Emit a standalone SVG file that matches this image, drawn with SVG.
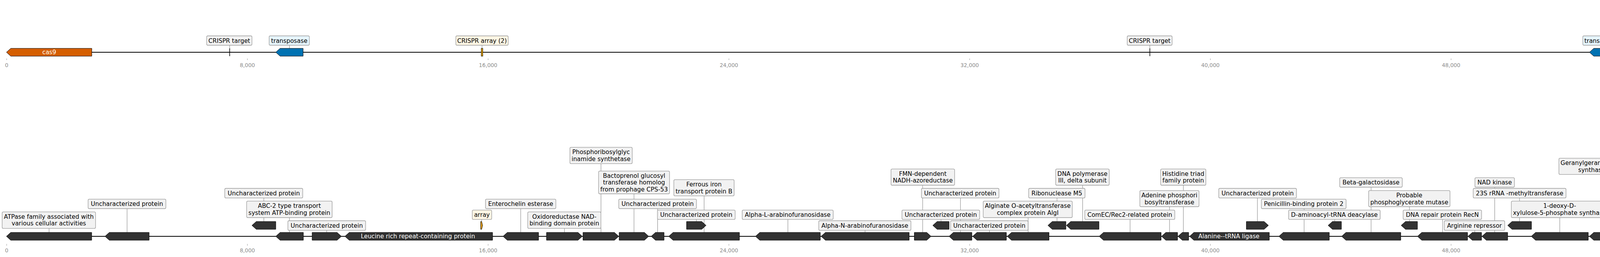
<svg xmlns="http://www.w3.org/2000/svg" width="5123" height="659" viewBox="0 0 5123 659">
<style>
.g{fill:#333333;stroke:#000;stroke-width:1}
.box{fill:#f2f2f2;stroke:#9a9a9a;stroke-width:1.3}
.bb{fill:#e6f5fd;stroke:#9a9a9a;stroke-width:1.3}
.by{fill:#fdf6e4;stroke:#9a9a9a;stroke-width:1.3}
.t{font-family:"DejaVu Sans",sans-serif;font-size:15.3px;fill:#000;text-anchor:middle}
.w{font-family:"DejaVu Sans",sans-serif;font-size:15.3px;fill:#fff;text-anchor:middle}
.ld{stroke:#444;stroke-width:0.7;fill:none}
.tk{stroke:#999;stroke-width:1}
.tl{font-family:"DejaVu Sans",sans-serif;font-size:13.5px;fill:#8c8c8c;text-anchor:middle}
.arr{fill:#e69f00;stroke:#000;stroke-width:1}
.trk{stroke:#000;stroke-width:2.2}
</style>
<rect width="5123" height="659" fill="#fff"/>
<g id="axes">
<line class="trk" x1="17" y1="134" x2="5047" y2="134"/>
<line class="trk" x1="17" y1="606" x2="5049" y2="606"/>
<g class="tk">
<line x1="17" y1="150" x2="17" y2="154"/><line x1="633.3" y1="150" x2="633.3" y2="154"/><line x1="1249.6" y1="150" x2="1249.6" y2="154"/><line x1="1866" y1="150" x2="1866" y2="154"/><line x1="2482.3" y1="150" x2="2482.3" y2="154"/><line x1="3098.5" y1="150" x2="3098.5" y2="154"/><line x1="3714.8" y1="150" x2="3714.8" y2="154"/><line x1="4331" y1="150" x2="4331" y2="154"/><line x1="4947.4" y1="150" x2="4947.4" y2="154"/>
<line x1="17" y1="625.5" x2="17" y2="630"/><line x1="633.3" y1="625.5" x2="633.3" y2="630"/><line x1="1249.6" y1="625.5" x2="1249.6" y2="630"/><line x1="1866" y1="625.5" x2="1866" y2="630"/><line x1="2482.3" y1="625.5" x2="2482.3" y2="630"/><line x1="3098.5" y1="625.5" x2="3098.5" y2="630"/><line x1="3714.8" y1="625.5" x2="3714.8" y2="630"/><line x1="4331" y1="625.5" x2="4331" y2="630"/><line x1="4947.4" y1="625.5" x2="4947.4" y2="630"/>
</g>
<g class="tl">
<text x="17" y="171.5">0</text><text x="633.3" y="171.5">8,000</text><text x="1249.6" y="171.5">16,000</text><text x="1866" y="171.5">24,000</text><text x="2482.3" y="171.5">32,000</text><text x="3098.5" y="171.5">40,000</text><text x="3714.8" y="171.5">48,000</text><text x="4331" y="171.5">56,000</text><text x="4947.4" y="171.5">64,000</text>
<text x="17" y="647">0</text><text x="633.3" y="647">8,000</text><text x="1249.6" y="647">16,000</text><text x="1866" y="647">24,000</text><text x="2482.3" y="647">32,000</text><text x="3098.5" y="647">40,000</text><text x="3714.8" y="647">48,000</text><text x="4331" y="647">56,000</text><text x="4947.4" y="647">64,000</text>
</g>
</g>
<g id="connectors" class="ld">
<line x1="588" y1="116" x2="588" y2="124"/><line x1="741" y1="116" x2="741" y2="124"/><line x1="1234" y1="116" x2="1234" y2="124"/><line x1="2943.6" y1="116" x2="2943.6" y2="124"/><line x1="4103" y1="116" x2="4103" y2="124"/><line x1="5047" y1="116" x2="5047" y2="124"/>
<line x1="125.6" y1="585.7" x2="125.6" y2="596"/>
<line x1="325.3" y1="535" x2="325.3" y2="596"/>
<line x1="675.5" y1="507.7" x2="675.5" y2="568"/>
<line x1="741" y1="558" x2="741" y2="596"/>
<line x1="836.5" y1="590.7" x2="836.5" y2="596"/>
<line x1="1233" y1="562.7" x2="1233" y2="568"/>
<line x1="1333" y1="535" x2="1333" y2="596"/>
<line x1="1445" y1="585.7" x2="1445" y2="596"/>
<line x1="1538.5" y1="419.7" x2="1538.5" y2="596"/>
<line x1="1623" y1="497" x2="1623" y2="596"/>
<line x1="1683.5" y1="535" x2="1683.5" y2="596"/>
<line x1="1782.5" y1="562.7" x2="1782.5" y2="568"/>
<line x1="1802.5" y1="502.3" x2="1802.5" y2="596"/>
<line x1="2017" y1="562.7" x2="2017" y2="596"/>
<line x1="2214.5" y1="590.7" x2="2214.5" y2="596"/>
<line x1="2362" y1="475" x2="2362" y2="596"/>
<line x1="2409" y1="562.7" x2="2409" y2="568"/>
<line x1="2458.8" y1="507.7" x2="2458.8" y2="596"/>
<line x1="2533" y1="590.7" x2="2533" y2="596"/>
<line x1="2632" y1="558" x2="2632" y2="596"/>
<line x1="2706" y1="507.7" x2="2706" y2="568"/>
<line x1="2771.6" y1="475" x2="2771.6" y2="568"/>
<line x1="2893" y1="562.7" x2="2893" y2="596"/>
<line x1="2994" y1="530" x2="2994" y2="596"/>
<line x1="3029.4" y1="475" x2="3029.4" y2="596"/>
<line x1="3219" y1="507.7" x2="3219" y2="568"/>
<line x1="3338.5" y1="535" x2="3338.5" y2="596"/>
<line x1="3417" y1="562.7" x2="3417" y2="568"/>
<line x1="3510" y1="480" x2="3510" y2="596"/>
<line x1="3608" y1="530" x2="3608" y2="568"/>
<line x1="3693" y1="562.7" x2="3693" y2="596"/>
<line x1="3775.5" y1="590.7" x2="3775.5" y2="596"/>
<line x1="3826.5" y1="480" x2="3826.5" y2="596"/>
<line x1="3890" y1="507.7" x2="3890" y2="568"/>
<line x1="3993" y1="558" x2="3993" y2="596"/>
<line x1="4104" y1="447.3" x2="4104" y2="596"/>
<line x1="4200" y1="309" x2="4200" y2="596"/>
<line x1="4282" y1="557.7" x2="4282" y2="568"/>
<line x1="4335" y1="502.3" x2="4335" y2="596"/>
<line x1="4369" y1="364" x2="4369" y2="596"/>
<line x1="4398.5" y1="442" x2="4398.5" y2="568"/>
<line x1="4440" y1="309" x2="4440" y2="596"/>
<line x1="4482.6" y1="253.7" x2="4482.6" y2="596"/>
<line x1="4519" y1="562.7" x2="4519" y2="568"/>
<line x1="4580" y1="535" x2="4580" y2="596"/>
<line x1="4637.5" y1="475" x2="4637.5" y2="596"/>
<line x1="4660" y1="419.7" x2="4660" y2="568"/>
<line x1="4687.7" y1="364" x2="4687.7" y2="568"/>
<line x1="4741.6" y1="507.3" x2="4741.6" y2="596"/>
<line x1="4819.2" y1="535" x2="4819.2" y2="568"/>
<line x1="4899.7" y1="562.7" x2="4899.7" y2="596"/>
<line x1="5049" y1="590" x2="5049" y2="596"/>
</g>
<g id="top-features">
<g id="cas9"><polygon points="16.6,134 27.6,124 235,124 235,144 27.6,144" fill="#d55e00" stroke="#000" stroke-width="1"/><text class="w" x="126" y="139.3">cas9</text></g>
<g id="crispr-target-1"><line x1="588" y1="124" x2="588" y2="144" stroke="#000" stroke-width="1.6"/><rect class="box" x="529" y="92" width="116" height="24" rx="3"/><text class="t" x="587" y="109.5">CRISPR target</text></g>
<g id="transposase-1"><polygon points="706,134 717,124 776,124 776,144 717,144" fill="#0072b2" stroke="#000" stroke-width="1"/><rect class="bb" x="689" y="92" width="103" height="24" rx="3"/><text class="t" x="740.5" y="109.5">transposase</text></g>
<g id="crispr-array-1"><rect class="arr" x="1232" y="124" width="4" height="20"/><rect class="by" x="1167" y="92" width="134" height="24" rx="3"/><text class="t" x="1234" y="109.5">CRISPR array (2)</text></g>
<g id="crispr-target-2"><line x1="2943.6" y1="124" x2="2943.6" y2="144" stroke="#000" stroke-width="1.6"/><rect class="box" x="2885.6" y="92" width="115" height="24" rx="3"/><text class="t" x="2943.2" y="109.5">CRISPR target</text></g>
<g id="transposase-2"><polygon points="4069,134 4080,124 4137.6,124 4137.6,144 4080,144" fill="#0072b2" stroke="#000" stroke-width="1"/><rect class="bb" x="4052" y="92" width="101" height="24" rx="3"/><text class="t" x="4102.5" y="109.5">transposase</text></g>
<g id="crispr-array-2"><rect class="arr" x="5045" y="124" width="4" height="20"/><rect class="by" x="4979" y="92" width="136" height="24" rx="3"/><text class="t" x="5047" y="109.5">CRISPR array (2)</text></g>
</g>
<g id="bottom-features">
<g id="b1"><polygon class="g" points="16.5,606 27.5,596 234.8,596 234.8,616 27.5,616"/><rect class="box" x="5.5" y="543.3" width="239.1" height="42.4" rx="3"/><text class="t" x="125" y="560.8">ATPase family associated with</text><text class="t" x="125" y="578.3">various cellular activities</text></g>
<g id="b2"><polygon class="g" points="268.8,606 279.8,596 381.8,596 381.8,616 279.8,616"/><rect class="box" x="225.5" y="510.7" width="199.1" height="24.3" rx="3"/><text class="t" x="325" y="528.2">Uncharacterized protein</text></g>
<g id="b3"><polygon class="g" points="645,578 656,568 706,568 706,588 656,588"/><rect class="box" x="575.4" y="483" width="199.6" height="24.7" rx="3"/><text class="t" x="675.2" y="500.5">Uncharacterized protein</text></g>
<g id="b4"><polygon class="g" points="706,606 717,596 776.7,596 776.7,616 717,616"/><rect class="box" x="631.4" y="515.7" width="218.9" height="42.3" rx="3"/><text class="t" x="740.8" y="533.2">ABC-2 type transport</text><text class="t" x="740.8" y="550.7">system ATP-binding protein</text></g>
<g id="b5"><polygon class="g" points="874,606 863,596 799,596 799,616 863,616"/><rect class="box" x="737" y="566" width="199" height="24.7" rx="3"/><text class="t" x="836.5" y="583.5">Uncharacterized protein</text></g>
<g id="b6"><polygon class="g" points="883,606 894,596 1261,596 1261,616 894,616"/><text class="w" x="1070" y="611.3">Leucine rich repeat-containing protein</text></g>
<g id="array-1"><polygon class="arr" points="1230.5,568 1233,568 1235.5,578 1233,588 1230.5,588"/><rect class="by" x="1209" y="538.7" width="49.7" height="24" rx="3"/><text class="t" x="1233.8" y="556.2">array</text></g>
<g id="b7"><polygon class="g" points="1287.7,606 1298.7,596 1378.8,596 1378.8,616 1298.7,616"/><rect class="box" x="1242.8" y="510.7" width="180.2" height="24.3" rx="3"/><text class="t" x="1333" y="528.2">Enterochelin esterase</text></g>
<g id="b8"><polygon class="g" points="1490.7,606 1479.7,596 1399,596 1399,616 1479.7,616"/><rect class="box" x="1351" y="543.3" width="187.4" height="42.4" rx="3"/><text class="t" x="1444.7" y="560.8">Oxidoreductase NAD-</text><text class="t" x="1444.7" y="578.3">binding domain protein</text></g>
<g id="b9"><polygon class="g" points="1584,606 1573,596 1492.4,596 1492.4,616 1573,616"/><rect class="box" x="1459" y="377.7" width="159.5" height="42" rx="3"/><text class="t" x="1538.7" y="395.2">Phosphoribosylglyc</text><text class="t" x="1538.7" y="412.7">inamide synthetase</text></g>
<g id="b10"><polygon class="g" points="1660.7,606 1649.7,596 1585,596 1585,616 1649.7,616"/><rect class="box" x="1532.4" y="438.7" width="181.6" height="58.3" rx="3"/><text class="t" x="1623.2" y="456">Bactoprenol glucosyl</text><text class="t" x="1623.2" y="473.3">transferase homolog</text><text class="t" x="1623.2" y="490.6">from prophage CPS-53</text></g>
<g id="b11"><polygon class="g" points="1667,606 1678,596 1700,596 1700,616 1678,616"/><rect class="box" x="1584" y="510.7" width="199" height="24.3" rx="3"/><text class="t" x="1683.5" y="528.2">Uncharacterized protein</text></g>
<g id="b12"><polygon class="g" points="1807.5,578 1796.5,568 1757.6,568 1757.6,588 1796.5,588"/><rect class="box" x="1683" y="538.7" width="199" height="24" rx="3"/><text class="t" x="1782.5" y="556.2">Uncharacterized protein</text></g>
<g id="b13"><polygon class="g" points="1712,606 1723,596 1893,596 1893,616 1723,616"/><rect class="box" x="1725" y="460.7" width="154.4" height="41.6" rx="3"/><text class="t" x="1802.2" y="478.2">Ferrous iron</text><text class="t" x="1802.2" y="495.5">transport protein B</text></g>
<g id="b14"><polygon class="g" points="1934,606 1945,596 2100,596 2100,616 1945,616"/><rect class="box" x="1900" y="538.7" width="233" height="24" rx="3"/><text class="t" x="2016.5" y="556.2">Alpha-L-arabinofuranosidase</text></g>
<g id="b15"><polygon class="g" points="2102,606 2113,596 2327.5,596 2327.5,616 2113,616"/><rect class="box" x="2096" y="566" width="236" height="24.7" rx="3"/><text class="t" x="2214" y="583.5">Alpha-N-arabinofuranosidase</text></g>
<g id="b16"><polygon class="g" points="2383.5,606 2372.5,596 2340.7,596 2340.7,616 2372.5,616"/><rect class="box" x="2281" y="433.3" width="162.8" height="41.7" rx="3"/><text class="t" x="2362.4" y="450.8">FMN-dependent</text><text class="t" x="2362.4" y="468.1">NADH-azoreductase</text></g>
<g id="b17"><polygon class="g" points="2388,578 2399,568 2429.6,568 2429.6,588 2399,588"/><rect class="box" x="2309" y="538.7" width="199" height="24" rx="3"/><text class="t" x="2408.5" y="556.2">Uncharacterized protein</text></g>
<g id="b18"><polygon class="g" points="2429.6,606 2440.6,596 2488,596 2488,616 2440.6,616"/><rect class="box" x="2358.8" y="483" width="198.6" height="24.7" rx="3"/><text class="t" x="2458.1" y="500.5">Uncharacterized protein</text></g>
<g id="b19"><polygon class="g" points="2490,606 2501,596 2576.3,596 2576.3,616 2501,616"/><rect class="box" x="2433.4" y="566" width="198.6" height="24.7" rx="3"/><text class="t" x="2532.7" y="583.5">Uncharacterized protein</text></g>
<g id="b20"><polygon class="g" points="2578.5,606 2589.5,596 2685.5,596 2685.5,616 2589.5,616"/><rect class="box" x="2517" y="515.7" width="228" height="42.3" rx="3"/><text class="t" x="2631" y="533.2">Alginate O-acetyltransferase</text><text class="t" x="2631" y="550.7">complex protein AlgI</text></g>
<g id="b21"><polygon class="g" points="2682.7,578 2693.7,568 2728.8,568 2728.8,588 2693.7,588"/><rect class="box" x="2633.4" y="483" width="144.2" height="24.7" rx="3"/><text class="t" x="2705.5" y="500.5">Ribonuclease M5</text></g>
<g id="b22"><polygon class="g" points="2730,578 2741,568 2813.3,568 2813.3,588 2741,588"/><rect class="box" x="2702.5" y="433.3" width="137.1" height="41.7" rx="3"/><text class="t" x="2771" y="450.8">DNA polymerase</text><text class="t" x="2771" y="468.1">III, delta subunit</text></g>
<g id="b23"><polygon class="g" points="2813.9,606 2824.9,596 2972.4,596 2972.4,616 2824.9,616"/><rect class="box" x="2777" y="538.7" width="230.5" height="24" rx="3"/><text class="t" x="2892.2" y="556.2">ComEC/Rec2-related protein</text></g>
<g id="b24"><polygon class="g" points="2973.5,606 2984.5,596 3014.6,596 3014.6,616 2984.5,616"/><rect class="box" x="2918" y="488.7" width="151.5" height="41.3" rx="3"/><text class="t" x="2993.7" y="506.2">Adenine phosphori</text><text class="t" x="2993.7" y="523.5">bosyltransferase</text></g>
<g id="b25"><polygon class="g" points="3015.7,606 3026.7,596 3043,596 3043,616 3026.7,616"/><rect class="box" x="2971.3" y="433.3" width="115.7" height="41.7" rx="3"/><text class="t" x="3029.1" y="450.8">Histidine triad</text><text class="t" x="3029.1" y="468.1">family protein</text></g>
<g id="b26"><polygon class="g" points="3045.3,606 3056.3,596 3249.4,596 3249.4,616 3056.3,616"/><text class="w" x="3146" y="611.3">Alanine--tRNA ligase</text></g>
<g id="b27"><polygon class="g" points="3247.2,578 3236.2,568 3190.7,568 3190.7,588 3236.2,588"/><rect class="box" x="3120" y="483" width="199" height="24.7" rx="3"/><text class="t" x="3219.5" y="500.5">Uncharacterized protein</text></g>
<g id="b28"><polygon class="g" points="3274,606 3285,596 3403,596 3403,616 3285,616"/><rect class="box" x="3229" y="510.7" width="217" height="24.3" rx="3"/><text class="t" x="3337.5" y="528.2">Penicillin-binding protein 2</text></g>
<g id="b29"><polygon class="g" points="3400,578 3411,568 3434,568 3434,588 3411,588"/><rect class="box" x="3298.8" y="538.7" width="234.5" height="24" rx="3"/><text class="t" x="3416" y="556.2">D-aminoacyl-tRNA deacylase</text></g>
<g id="b30"><polygon class="g" points="3434.6,606 3445.6,596 3586,596 3586,616 3445.6,616"/><rect class="box" x="3429.6" y="455.7" width="160.2" height="24.3" rx="3"/><text class="t" x="3509.7" y="473.2">Beta-galactosidase</text></g>
<g id="b31"><polygon class="g" points="3587,578 3598,568 3628.7,568 3628.7,588 3598,588"/><rect class="box" x="3503.7" y="488.7" width="208.3" height="41.3" rx="3"/><text class="t" x="3607.8" y="506.2">Probable</text><text class="t" x="3607.8" y="523.5">phosphoglycerate mutase</text></g>
<g id="b32"><polygon class="g" points="3628.7,606 3639.7,596 3757,596 3757,616 3639.7,616"/><rect class="box" x="3592" y="538.7" width="200.8" height="24" rx="3"/><text class="t" x="3692.4" y="556.2">DNA repair protein RecN</text></g>
<g id="b33"><polygon class="g" points="3758,606 3769,596 3792.8,596 3792.8,616 3769,616"/><rect class="box" x="3697.3" y="566" width="154.7" height="24.7" rx="3"/><text class="t" x="3774.6" y="583.5">Arginine repressor</text></g>
<g id="b34"><polygon class="g" points="3793.9,606 3804.9,596 3859.7,596 3859.7,616 3804.9,616"/><rect class="box" x="3775.8" y="455.7" width="101.2" height="24.3" rx="3"/><text class="t" x="3826.4" y="473.2">NAD kinase</text></g>
<g id="b35"><polygon class="g" points="3859.7,578 3870.7,568 3920.6,568 3920.6,588 3870.7,588"/><rect class="box" x="3771.4" y="483" width="237.6" height="24.7" rx="3"/><text class="t" x="3890.2" y="500.5">23S rRNA -methyltransferase</text></g>
<g id="b36"><polygon class="g" points="3920,606 3931,596 4066,596 4066,616 3931,616"/><rect class="box" x="3869" y="515.7" width="247.4" height="42.3" rx="3"/><text class="t" x="3992.7" y="533.2">1-deoxy-D-</text><text class="t" x="3992.7" y="550.7">xylulose-5-phosphate synthase</text></g>
<g id="b37"><polygon class="g" points="4069,606 4080,596 4138.4,596 4138.4,616 4080,616"/><rect class="box" x="3990.8" y="405.7" width="226" height="41.6" rx="3"/><text class="t" x="4103.8" y="423.2">Geranylgeranyl diphosphate</text><text class="t" x="4103.8" y="440.5">synthase, type II</text></g>
<g id="b38"><polygon class="g" points="4154,606 4165,596 4246,596 4246,616 4165,616"/><rect class="box" x="4119" y="266.7" width="162" height="42.3" rx="3"/><text class="t" x="4200" y="284.2">Exodeoxyribonuclea</text><text class="t" x="4200" y="301.7">se 7 large subunit</text></g>
<g id="b39"><polygon class="g" points="4244.8,578 4255.8,568 4319,568 4319,588 4255.8,588"/><rect class="box" x="4159" y="516" width="245.6" height="41.7" rx="3"/><text class="t" x="4281.8" y="533.5">N-L-threonylcarbamoyladenine</text><text class="t" x="4281.8" y="550.8">synthase</text></g>
<g id="b40"><polygon class="g" points="4319,606 4330,596 4351,596 4351,616 4330,616"/><rect class="box" x="4219.4" y="460.7" width="230.2" height="41.6" rx="3"/><text class="t" x="4334.5" y="478.2">Transcription</text><text class="t" x="4334.5" y="495.5">antitermination protein NusB</text></g>
<g id="b41"><polygon class="g" points="4351.8,606 4362.8,596 4386.4,596 4386.4,616 4362.8,616"/><rect class="box" x="4263" y="322.3" width="210.8" height="41.7" rx="3"/><text class="t" x="4368.4" y="339.8">N-acetyltransferase</text><text class="t" x="4368.4" y="357.1">domain-containing protein</text></g>
<g id="b42"><polygon class="g" points="4385.7,578 4396.7,568 4411,568 4411,588 4396.7,588"/><rect class="box" x="4288.5" y="382.7" width="219.2" height="59.3" rx="3"/><text class="t" x="4398.1" y="400.5">Uncharacterized conserved</text><text class="t" x="4398.1" y="418">protein YloU, alkaline</text><text class="t" x="4398.1" y="435.5">shock protein  family</text></g>
<g id="b43"><polygon class="g" points="4419,606 4430,596 4460.7,596 4460.7,616 4430,616"/><rect class="box" x="4359" y="267.3" width="161.7" height="41.7" rx="3"/><text class="t" x="4439.8" y="284.8">Stage III sporulation</text><text class="t" x="4439.8" y="302.1">protein AH</text></g>
<g id="b44"><polygon class="g" points="4462.7,606 4473.7,596 4502.5,596 4502.5,616 4473.7,616"/><rect class="box" x="4401.4" y="212" width="162.4" height="41.7" rx="3"/><text class="t" x="4482.6" y="229.5">Stage III sporulation</text><text class="t" x="4482.6" y="246.8">protein AG</text></g>
<g id="b45"><polygon class="g" points="4501,578 4512,568 4537,568 4537,588 4512,588"/><rect class="box" x="4419.6" y="538.3" width="199" height="24.4" rx="3"/><text class="t" x="4519.1" y="555.8">Uncharacterized protein</text></g>
<g id="b46"><polygon class="g" points="4538.4,606 4549.4,596 4621.9,596 4621.9,616 4549.4,616"/><rect class="box" x="4480.3" y="510.7" width="198.3" height="24.3" rx="3"/><text class="t" x="4579.5" y="528.2">Uncharacterized protein</text></g>
<g id="b47"><polygon class="g" points="4623,606 4634,596 4652.5,596 4652.5,616 4634,616"/><rect class="box" x="4556" y="433" width="161.7" height="42" rx="3"/><text class="t" x="4636.8" y="450.5">Stage III sporulation</text><text class="t" x="4636.8" y="467.8">protein AD</text></g>
<g id="b48"><polygon class="g" points="4652.5,578 4662,568 4667.5,568 4667.5,588 4662,588"/><rect class="box" x="4578" y="378" width="162" height="41.7" rx="3"/><text class="t" x="4659" y="395.5">Stage III sporulation</text><text class="t" x="4659" y="412.8">protein AC</text></g>
<g id="b49"><polygon class="g" points="4668.8,578 4679.8,568 4706.7,568 4706.7,588 4679.8,588"/><rect class="box" x="4606" y="322.7" width="162.6" height="41.3" rx="3"/><text class="t" x="4687.3" y="340.2">Stage III sporulation</text><text class="t" x="4687.3" y="357.5">protein AB</text></g>
<g id="b50"><polygon class="g" points="4706.7,606 4717.7,596 4776.5,596 4776.5,616 4717.7,616"/><rect class="box" x="4615.3" y="483.7" width="251.7" height="23.6" rx="3"/><text class="t" x="4741.2" y="500.9">AAA domain-containing protein</text></g>
<g id="b51"><polygon class="g" points="4785,578 4796,568 4853.4,568 4853.4,588 4796,588"/><rect class="box" x="4688.4" y="510.7" width="262.2" height="24.3" rx="3"/><text class="t" x="4819.5" y="528.2">Sugar ABC transporter permease</text></g>
<g id="b52"><polygon class="g" points="4854,606 4865,596 4945.4,596 4945.4,616 4865,616"/><rect class="box" x="4767" y="538.3" width="263" height="24.4" rx="3"/><text class="t" x="4898.5" y="555.8">Sugar ABC transporter permease</text></g>
<g id="array-2"><polygon class="arr" points="5046.5,596 5049,596 5051.5,606 5049,616 5046.5,616"/><rect class="by" x="5026.3" y="566.3" width="47.7" height="23.7" rx="3"/><text class="t" x="5050.2" y="583.5">array</text></g>
</g>
</svg>
